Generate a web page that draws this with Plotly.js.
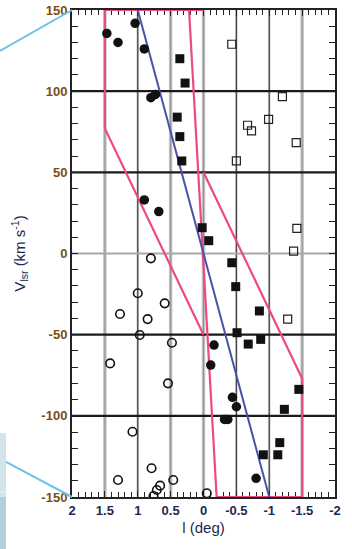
<!DOCTYPE html>
<html>
<head>
<meta charset="utf-8">
<script src="https://cdn.plot.ly/plotly-3.0.1.min.js"></script>
<style>html,body{margin:0;padding:0;background:#fff;}#chart{width:352px;height:549px;}</style>
</head>
<body>
<div id="chart"></div>
<script>
// ---- data ----
const filledCircleL = [1.47, 1.30, 1.04, 0.90, 0.80, 0.73, 0.90, 0.68, -0.16, -0.11, -0.44, -0.50, -0.32, -0.37, -0.80];
const filledCircleV = [135.6, 130, 141.8, 126, 96, 98, 33, 25.8, -56.4, -68.7, -88.6, -94.4, -102.2, -102.2, -138.5];

const filledSquareL = [0.36, 0.28, 0.40, 0.36, 0.33, 0.02, -0.08, -0.43, -0.49, -0.85, -0.51, -0.68, -0.87, -1.45, -1.23, -1.16, -0.91, -1.13];
const filledSquareV = [120, 105, 84, 72, 57, 15.9, 7.9, -5.7, -20.4, -35.4, -48.8, -55.8, -52.9, -83.7, -96, -116.5, -124, -124];

const openCircleL = [0.80, 1.00, 0.59, 1.27, 0.85, 0.97, 0.48, 1.42, 0.54, 1.08, 0.79, 1.30, 0.66, 0.71, 0.76, 0.46, -0.05];
const openCircleV = [-3, -24.5, -30.7, -37.3, -40.4, -50.2, -55, -67.7, -80, -109.8, -132.3, -139.5, -143, -145.7, -149.4, -139.5, -147.7];

const openSquareL = [-0.43, -1.20, -0.67, -0.73, -0.99, -1.41, -0.50, -1.42, -1.37, -1.28];
const openSquareV = [128.9, 96.6, 79, 75.5, 82.6, 68.3, 57, 15.5, 1.5, -40.4];

const boundaryL = [0, 1.5, 1.5, 0, null, 0.22, -0.2, null, 0, -1.5, -1.5, -0.2];
const boundaryV = [150, 150, 77, -50, null, 150, -150, null, 50, -77, -150, -150];

const rotationL = [1, -1];
const rotationV = [150, -150];

const xTickVals = [2, 1.5, 1, 0.5, 0, -0.5, -1, -1.5, -2];
const xTickText = ['2', '1.5', '1', '0.5', '0', '-0.5', '-1', '-1.5', '-2'];
const yTickVals = [150, 100, 50, 0, -50, -100, -150];
const yTickText = ['150', '100', '50', '0', '-50', '-100', '-150'];

const lightGridL = [1.5, 0.5, 0, -1.5];
const darkGridL = [1, -0.5, -1];
const blackGridV = [100, 50, -50, -100];
const grayGridV = [0];

// ---- shapes ----
const shapes = [];
lightGridL.forEach(l => {
  shapes.push({type:'line', xref:'x', yref:'y', x0:l, x1:l, y0:-150, y1:150, layer:'below', line:{color:'#c2c2c2', width:3.5}});
  shapes.push({type:'line', xref:'x', yref:'y', x0:l, x1:l, y0:-150, y1:150, layer:'below', line:{color:'#909090', width:1}});
});
darkGridL.forEach(l => {
  shapes.push({type:'line', xref:'x', yref:'y', x0:l, x1:l, y0:-150, y1:150, layer:'below', line:{color:'#cccccc', width:2.5}});
  shapes.push({type:'line', xref:'x', yref:'y', x0:l, x1:l, y0:-150, y1:150, layer:'below', line:{color:'#444', width:1.2}});
});
grayGridV.forEach(v => {
  shapes.push({type:'line', xref:'x', yref:'y', x0:2, x1:-2, y0:v, y1:v, layer:'below', line:{color:'#a8a8a8', width:2}});
});
blackGridV.forEach(v => {
  shapes.push({type:'line', xref:'x', yref:'y', x0:2, x1:-2, y0:v, y1:v, layer:'below', line:{color:'#1a1a1a', width:2.2}});
});
// decorative left band and connector lines (paper coordinates)
shapes.push({type:'rect', xref:'paper', yref:'paper', x0:-0.2738, x1:-0.251, y0:0.1314, y1:0.0, line:{width:0}, fillcolor:'#d3e3ea'});
shapes.push({type:'rect', xref:'paper', yref:'paper', x0:-0.2738, x1:-0.251, y0:0.0, y1:-0.107, line:{width:0}, fillcolor:'#b4cfdb'});
shapes.push({type:'line', xref:'paper', yref:'paper', x0:-0.2738, x1:-0.251, y0:0.01, y1:0.01, line:{color:'#eef4f7', width:1}});
shapes.push({type:'line', xref:'paper', yref:'paper', x0:-0.2738, y0:0.9158, x1:0, y1:1, line:{color:'#6cc3e6', width:2}});
shapes.push({type:'line', xref:'paper', yref:'paper', x0:-0.251, y0:0.0719, x1:0, y1:0, line:{color:'#6cc3e6', width:2}});

const traces = [
  {x: boundaryL, y: boundaryV, mode:'lines', line:{color:'#ee4a82', width:2.2}, connectgaps:false, hoverinfo:'skip'},
  {x: rotationL, y: rotationV, mode:'lines', line:{color:'#4a52a8', width:2}, hoverinfo:'skip'},
  {x: filledCircleL, y: filledCircleV, mode:'markers', marker:{symbol:'circle', size:9.5, color:'#111'}},
  {x: filledSquareL, y: filledSquareV, mode:'markers', marker:{symbol:'square', size:9, color:'#111'}},
  {x: openCircleL, y: openCircleV, mode:'markers', marker:{symbol:'circle-open', size:8.5, color:'#111', line:{width:1.6}}},
  {x: openSquareL, y: openSquareV, mode:'markers', marker:{symbol:'square-open', size:8, color:'#222', line:{width:1.2}}}
];

const layout = {
  width:352, height:549,
  margin:{l:72, r:17, t:10, b:52},
  paper_bgcolor:'#fff', plot_bgcolor:'#fff',
  showlegend:false,
  font:{family:'Liberation Sans, Arial, sans-serif'},
  xaxis:{
    range:[2,-2], tickvals:xTickVals, ticktext:xTickText,
    ticks:'inside', ticklen:6, tickwidth:1.2, tickcolor:'#222',
    minor:{dtick:0.1, ticks:'inside', ticklen:5, tickwidth:1, tickcolor:'#222', showgrid:false},
    showgrid:false, zeroline:false, layer:'below traces',
    showline:true, linecolor:'#222', linewidth:2, mirror:'ticks',
    tickfont:{size:13, color:'#1c2a50', family:'Liberation Sans, Arial', weight:'bold'},
    title:{text:'l (deg)', font:{size:15, color:'#1c2a50'}, standoff:6}
  },
  yaxis:{
    range:[-150,150], tickvals:yTickVals, ticktext:yTickText,
    ticks:'inside', ticklen:6, tickwidth:1.2, tickcolor:'#222',
    minor:{dtick:10, ticks:'inside', ticklen:6, tickwidth:1, tickcolor:'#222', showgrid:false},
    showgrid:false, zeroline:false, layer:'below traces',
    showline:true, linecolor:'#222', linewidth:2, mirror:'ticks',
    tickfont:{size:13, color:'#7a4e12', family:'Liberation Sans, Arial', weight:'bold'},
    title:{text:'V<sub>lsr</sub> (km s<sup>-1</sup>)', font:{size:15, color:'#1c2a50'}, standoff:12}
  },
  shapes: shapes
};

Plotly.newPlot('chart', traces, layout, {staticPlot:true, displayModeBar:false});
</script>
</body>
</html>
